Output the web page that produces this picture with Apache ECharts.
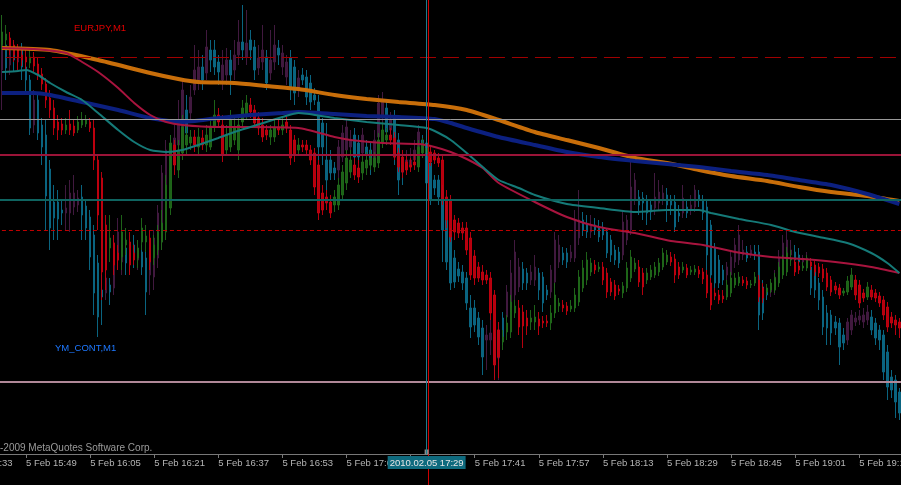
<!DOCTYPE html>
<html><head><meta charset="utf-8">
<script src="https://cdn.jsdelivr.net/npm/echarts@6/dist/echarts.min.js"></script>
<style>html,body{margin:0;padding:0;background:#000;overflow:hidden}#c{width:901px;height:485px}</style>
</head><body><div id="c"></div>
<script>
const FONT = 'Liberation Sans';
const categories = [
'15:33','15:34','15:35','15:36','15:37','15:38','15:39','15:40','15:41','15:42',
'15:43','15:44','15:45','15:46','15:47','15:48','15:49','15:50','15:51','15:52','15:53','15:54','15:55','15:56','15:57','15:58','15:59',
'16:00','16:01','16:02','16:03','16:04','16:05','16:06','16:07','16:08','16:09','16:10','16:11','16:12','16:13','16:14','16:15','16:16','16:17','16:18','16:19','16:20','16:21','16:22','16:23','16:24','16:25','16:26','16:27','16:28','16:29','16:30','16:31','16:32','16:33','16:34','16:35','16:36','16:37','16:38','16:39','16:40','16:41','16:42','16:43','16:44','16:45','16:46','16:47','16:48','16:49','16:50','16:51','16:52','16:53','16:54','16:55','16:56','16:57','16:58','16:59',
'17:00','17:01','17:02','17:03','17:04','17:05','17:06','17:07','17:08','17:09','17:10','17:11','17:12','17:13','17:14','17:15','17:16','17:17','17:18','17:19','17:20','17:21','17:22','17:23','17:24','17:25','17:26','17:27','17:28','17:29','17:30','17:31','17:32','17:33','17:34','17:35','17:36','17:37','17:38','17:39','17:40','17:41','17:42','17:43','17:44','17:45','17:46','17:47','17:48','17:49','17:50','17:51','17:52','17:53','17:54','17:55','17:56','17:57','17:58','17:59',
'18:00','18:01','18:02','18:03','18:04','18:05','18:06','18:07','18:08','18:09','18:10','18:11','18:12','18:13','18:14','18:15','18:16','18:17','18:18','18:19','18:20','18:21','18:22','18:23','18:24','18:25','18:26','18:27','18:28','18:29','18:30','18:31','18:32','18:33','18:34','18:35','18:36','18:37','18:38','18:39','18:40','18:41','18:42','18:43','18:44','18:45','18:46','18:47','18:48','18:49','18:50','18:51','18:52','18:53','18:54','18:55','18:56','18:57','18:58','18:59',
'19:00','19:01','19:02','19:03','19:04','19:05','19:06','19:07','19:08','19:09','19:10','19:11','19:12','19:13','19:14','19:15','19:16','19:17','19:18','19:19','19:20','19:21','19:22','19:23','19:24','19:25','19:26','19:27'
];
const firstBarTime = '15:43';
const tickLabels = ['15:33','15:49','16:05','16:21','16:37','16:53','17:09','17:25','17:41','17:57','18:13','18:29','18:45','19:01','19:17'];
const crossTime = '17:29';
const crossLabel = '2010.02.05 17:29';

// bars from 15:43 onward, [open, close, low, high]
const eurjpyCandles = [
[10055,10068,10050,10085],[10060,10066,10054,10075],[10062,10052,10045,10068],[10055,10045,10038,10060],[10052,10042,10030,10056],
[10045,10040,10034,10052],[10043,10038,10030,10050],[10037,10043,10032,10050],[10043,10034,10028,10048],[10036,10025,10020,10042],
[10026,10016,10010,10032],[10016,10000,9992,10022],[10002,9990,9982,10010],[9992,9972,9965,10000],[9978,9970,9960,9985],
[9976,9970,9965,9982],[9970,9975,9966,9982],[9976,9970,9965,9990],[9974,9967,9964,9980],[9970,9978,9967,9984],
[9975,9980,9972,9988],[9976,9980,9973,9985],[9978,9972,9968,9982],[9972,9940,9930,9980],[9940,9885,9870,9945],
[9922,9828,9800,9928],[9875,9830,9810,9885],[9852,9862,9838,9885],[9857,9835,9825,9865],[9847,9840,9830,9855],
[9843,9868,9830,9885],[9855,9860,9845,9872],[9858,9835,9825,9868],[9847,9840,9835,9855],[9842,9852,9832,9860],
[9858,9872,9850,9882],[9858,9864,9848,9875],[9862,9838,9830,9870],[9842,9855,9835,9865],[9850,9868,9845,9875],
[9858,9877,9850,9890],[9868,9915,9860,9925],[9892,9957,9885,9965],[9955,9935,9925,9960],[9930,9950,9922,9960],
[9947,9973,9940,9985],[9955,9965,9945,9975],[9957,9963,9950,9970],[9963,9955,9948,9970],[9953,9963,9945,9972],
[9962,9955,9950,9970],[9955,9965,9948,9975],[9953,9973,9950,9982],[9973,9985,9968,10000],[9985,9978,9972,9992],
[9975,9945,9938,9985],[9950,9965,9945,9975],[9953,9980,9948,9990],[9960,9972,9955,9982],[9950,9975,9940,9982],
[9978,9992,9972,10000],[9985,9997,9980,10005],[9995,9988,9982,10002],[9990,9977,9972,9995],[9982,9972,9965,9988],
[9975,9963,9958,9982],[9970,9965,9960,9975],[9963,9970,9955,9975],[9963,9972,9958,9980],[9973,9970,9965,9980],
[9970,9975,9965,9982],[9978,9972,9967,9985],[9970,9942,9935,9975],[9960,9945,9938,9965],[9950,9955,9945,9962],
[9955,9953,9948,9960],[9955,9950,9945,9960],[9950,9940,9935,9955],[9947,9913,9905,9952],[9935,9887,9880,9940],
[9907,9890,9885,9915],[9903,9897,9890,9910],[9898,9887,9882,9905],[9895,9903,9888,9910],[9895,9915,9890,9922],
[9905,9928,9900,9935],[9917,9942,9910,9950],[9928,9940,9922,9950],[9935,9925,9920,9942],[9932,9923,9917,9940],
[9927,9938,9920,9945],[9932,9940,9925,9948],[9935,9942,9930,9950],[9933,9942,9928,9948],[9937,9960,9932,9967],
[9957,9970,9952,9978],[9960,9965,9955,9972],[9965,9960,9955,9972],[9962,9943,9940,9968],[9947,9933,9928,9952],
[9943,9928,9922,9950],[9938,9930,9925,9945],[9935,9933,9928,9942],[9938,9935,9930,9945],[9933,9953,9928,9960],
[9947,9957,9942,9962],[9947,9952,9943,9957],[9948,9938,9934,9953],[9947,9940,9936,9950],[9942,9937,9933,9947],
[9940,9900,9895,9945],[9903,9880,9872,9910],[9900,9863,9858,9905],[9880,9868,9860,9885],[9877,9867,9862,9882],
[9872,9867,9860,9878],[9872,9850,9845,9878],[9862,9825,9820,9868],[9844,9822,9815,9850],[9833,9822,9818,9838],
[9828,9820,9815,9835],[9825,9820,9816,9830],[9822,9787,9780,9828],[9805,9735,9720,9810],[9770,9743,9722,9778],
[9758,9763,9750,9770],[9768,9777,9760,9785],[9768,9798,9762,9805],[9787,9794,9782,9800],[9792,9773,9765,9800],
[9788,9774,9752,9795],[9782,9774,9765,9790],[9778,9782,9770,9790],[9778,9783,9770,9795],[9781,9774,9765,9788],
[9779,9777,9772,9784],[9779,9777,9773,9785],[9777,9787,9770,9795],[9787,9805,9782,9817],[9794,9797,9788,9802],
[9795,9792,9788,9800],[9794,9789,9785,9798],[9791,9794,9788,9800],[9792,9805,9788,9812],[9798,9823,9794,9830],
[9812,9832,9808,9840],[9820,9840,9815,9848],[9828,9837,9824,9842],[9835,9830,9826,9840],[9831,9833,9828,9838],
[9833,9820,9815,9838],[9827,9808,9802,9832],[9818,9808,9804,9822],[9815,9804,9800,9820],[9811,9809,9805,9815],
[9807,9814,9802,9818],[9812,9832,9808,9838],[9822,9843,9818,9850],[9831,9837,9828,9842],[9833,9818,9813,9840],
[9827,9813,9805,9832],[9820,9827,9816,9832],[9823,9830,9820,9835],[9825,9833,9822,9838],[9828,9837,9824,9842],
[9833,9847,9830,9852],[9838,9845,9835,9850],[9843,9838,9834,9848],[9841,9825,9817,9846],[9833,9825,9821,9838],
[9830,9833,9827,9838],[9832,9825,9822,9836],[9828,9830,9825,9834],[9828,9831,9825,9835],[9830,9826,9822,9834],
[9828,9821,9816,9832],[9825,9807,9802,9830],[9817,9795,9790,9822],[9807,9804,9800,9812],[9805,9800,9796,9810],
[9804,9801,9797,9810],[9803,9815,9800,9820],[9807,9822,9803,9828],[9815,9822,9812,9827],[9817,9823,9814,9828],
[9820,9817,9814,9824],[9819,9815,9811,9823],[9815,9816,9812,9820],[9817,9823,9814,9828],[9820,9803,9798,9825],
[9812,9802,9797,9817],[9808,9812,9805,9816],[9810,9817,9807,9821],[9810,9822,9807,9827],[9817,9833,9813,9838],
[9825,9840,9821,9845],[9828,9847,9824,9853],[9840,9842,9834,9850],[9838,9828,9824,9842],[9834,9830,9826,9839],
[9832,9834,9829,9838],[9832,9840,9829,9845],[9838,9834,9830,9842],[9835,9828,9824,9839],[9833,9827,9823,9837],
[9831,9822,9818,9836],[9827,9813,9809,9832],[9820,9808,9804,9824],[9814,9810,9806,9818],[9812,9805,9801,9816],
[9807,9809,9804,9812],[9808,9819,9805,9824],[9813,9825,9810,9832],[9820,9805,9800,9825],[9815,9797,9792,9820],
[9807,9802,9798,9811],[9803,9813,9800,9818],[9810,9803,9800,9815],[9807,9802,9798,9811],[9804,9797,9793,9808],
[9800,9785,9780,9804],[9793,9773,9768,9798],[9783,9777,9772,9788],[9780,9775,9765,9785],[9778,9772,9762,9782]
];

const ymCandles = [
[10030,10060,9990,10085],[10055,10032,10020,10065],[10035,10050,10025,10060],[10048,10040,10028,10058],[10038,10045,10030,10055],
[10050,10033,10020,10057],[10033,10020,10005,10040],[10020,9972,9965,10025],[9975,10000,9967,10010],[10000,9967,9960,10005],
[9975,9953,9935,9982],[9965,9904,9870,9980],[9931,9872,9850,9940],[9898,9882,9860,9915],[9898,9881,9860,9910],
[9890,9887,9875,9900],[9887,9892,9870,9915],[9887,9907,9868,9920],[9893,9907,9885,9925],[9895,9902,9888,9910],
[9903,9885,9860,9915],[9894,9872,9860,9900],[9883,9843,9830,9890],[9865,9807,9785,9875],[9837,9783,9763,9845],
[9810,9803,9775,9825],[9807,9822,9800,9830],[9815,9808,9795,9822],[9812,9857,9805,9865],[9840,9868,9830,9882],
[9838,9855,9825,9860],[9852,9837,9825,9862],[9840,9847,9828,9855],[9855,9843,9832,9865],[9840,9850,9830,9860],
[9848,9833,9825,9855],[9842,9808,9785,9850],[9825,9843,9805,9850],[9823,9862,9810,9870],[9842,9887,9832,9895],
[9858,9927,9850,9935],[9915,9950,9905,9960],[9950,9940,9930,9965],[9938,9962,9930,9975],[9955,9980,9948,10000],
[9953,10010,9945,10020],[9990,9967,9960,10005],[9987,10003,9980,10015],[10010,10030,10005,10055],[10017,10033,10010,10050],
[10033,10020,10010,10045],[10027,10053,10020,10070],[10050,10040,10028,10060],[10050,10033,10025,10060],[10038,10028,10015,10045],
[10020,10035,10010,10050],[10025,10040,10015,10052],[10040,10025,10005,10050],[10030,10045,10020,10060],[10045,10058,10035,10080],
[10058,10050,10040,10095],[10043,10057,10035,10090],[10060,10050,10040,10070],[10053,10030,10020,10060],[10032,10042,10025,10055],
[10038,10050,10030,10075],[10043,10017,10010,10050],[10027,10040,10020,10070],[10038,10055,10030,10075],[10052,10045,10035,10060],
[10033,10047,10025,10055],[10023,10038,10015,10045],[10042,10012,10000,10050],[10033,10007,9995,10040],[10010,10022,10003,10030],
[10025,10020,10015,10032],[10023,10003,9995,10030],[10017,9998,9990,10025],[10005,10000,9995,10012],[9998,9953,9940,10005],
[9977,9953,9935,9982],[9940,9920,9903,9977],[9940,9927,9920,9950],[9932,9927,9920,9938],[9930,9953,9922,9960],
[9943,9967,9938,9975],[9950,9973,9942,9980],[9953,9960,9948,9970],[9965,9943,9935,9972],[9957,9943,9937,9965],
[9947,9965,9940,9972],[9953,9945,9938,9960],[9950,9935,9925,9957],[9940,9960,9932,9970],[9963,9997,9958,10005],
[9983,10000,9978,10008],[9992,9968,9962,10000],[9970,9980,9962,9988],[9982,9943,9935,9990],[9960,9920,9905,9967],
[9935,9928,9915,9945],[9932,9940,9925,9950],[9933,9940,9928,9952],[9940,9950,9935,9960],[9950,9968,9942,9975],
[9960,9953,9948,9965],[9957,9917,9910,9962],[9937,9900,9895,9942],[9920,9912,9905,9925],[9920,9903,9895,9925],
[9910,9870,9838,9915],[9890,9838,9830,9895],[9865,9817,9810,9872],[9842,9818,9812,9850],[9831,9824,9818,9838],
[9828,9817,9810,9835],[9822,9797,9790,9828],[9792,9773,9762,9805],[9792,9775,9768,9800],[9782,9763,9755,9788],
[9772,9743,9725,9780],[9760,9765,9730,9775],[9760,9767,9745,9782],[9763,9738,9722,9770],[9742,9770,9720,9778],
[9782,9760,9755,9788],[9783,9808,9778,9815],[9793,9827,9788,9840],[9805,9848,9800,9860],[9813,9833,9808,9842],
[9831,9817,9810,9838],[9827,9817,9810,9832],[9820,9828,9815,9835],[9820,9833,9814,9845],[9827,9810,9800,9832],
[9823,9797,9788,9828],[9810,9805,9800,9815],[9808,9830,9802,9835],[9818,9860,9812,9868],[9838,9855,9832,9865],
[9847,9840,9835,9853],[9847,9838,9832,9852],[9842,9848,9838,9855],[9842,9880,9838,9890],[9862,9880,9855,9910],
[9880,9870,9864,9888],[9875,9868,9862,9885],[9868,9875,9862,9885],[9875,9870,9865,9882],[9873,9863,9858,9880],
[9872,9865,9860,9878],[9868,9847,9842,9872],[9860,9845,9838,9865],[9850,9840,9835,9855],[9848,9837,9832,9853],
[9845,9878,9840,9890],[9860,9880,9855,9885],[9870,9913,9865,9938],[9900,9920,9895,9927],[9903,9895,9885,9910],
[9902,9897,9880,9908],[9900,9887,9875,9905],[9895,9888,9880,9900],[9892,9903,9885,9927],[9897,9908,9890,9920],
[9900,9907,9895,9915],[9905,9895,9878,9912],[9900,9895,9885,9905],[9898,9873,9868,9905],[9887,9884,9878,9895],
[9887,9902,9882,9915],[9893,9887,9882,9900],[9890,9895,9885,9905],[9893,9910,9888,9915],[9905,9900,9893,9910],
[9900,9887,9880,9905],[9893,9845,9825,9900],[9875,9825,9820,9880],[9852,9817,9810,9857],[9840,9817,9812,9845],
[9830,9820,9815,9835],[9825,9833,9820,9838],[9825,9843,9820,9850],[9838,9855,9832,9862],[9840,9865,9835,9875],
[9845,9850,9840,9860],[9848,9842,9838,9854],[9845,9850,9842,9855],[9848,9845,9840,9855],[9848,9785,9770,9855],
[9813,9787,9780,9820],[9808,9805,9800,9812],[9808,9813,9803,9818],[9810,9823,9805,9830],[9820,9843,9815,9850],
[9835,9857,9830,9865],[9843,9860,9838,9870],[9845,9850,9838,9860],[9848,9840,9835,9855],[9845,9838,9832,9852],
[9838,9840,9833,9845],[9838,9842,9832,9848],[9833,9812,9805,9838],[9830,9810,9802,9835],[9817,9800,9790,9822],
[9803,9773,9765,9810],[9787,9772,9755,9795],[9785,9767,9755,9790],[9778,9772,9765,9784],[9777,9753,9735,9782],
[9765,9757,9750,9772],[9760,9778,9755,9782],[9770,9785,9765,9790],[9778,9782,9774,9788],[9780,9784,9775,9790],
[9778,9785,9772,9792],[9780,9788,9775,9795],[9783,9770,9765,9790],[9777,9762,9755,9782],[9770,9760,9750,9775],
[9765,9728,9720,9770],[9748,9713,9700,9755],[9723,9710,9702,9730],[9720,9698,9682,9725],[9708,9687,9680,9712]
];

// moving averages: [bar number counted from 15:43, value]
const maOrange = [[0,10052],[12,10050],[24,10040],[37,10027],[44,10021],[49,10018],[58,10017],[66,10014],[74,10011],[83,10005],[91,10001],[99,9998],[108,9995],[116,9990],[124,9980],[133,9968],[141,9960],[149,9952],[158,9942],[166,9937],[174,9930],[182,9924],[191,9919],[199,9913],[207,9908],[216,9904],[224,9899]];
const maBlue = [[0,10007],[8,10007],[12,10005],[20,9998],[29,9990],[37,9982],[45,9978],[54,9982],[62,9985],[70,9987],[74,9988],[83,9986],[91,9984],[99,9983],[108,9981],[112,9977],[116,9972],[124,9963],[133,9955],[141,9948],[149,9943],[158,9939],[166,9936],[174,9933],[182,9929],[191,9925],[199,9920],[207,9915],[216,9906],[224,9896]];
const maCrimson = [[0,10052],[8,10051],[16,10047],[20,10038],[24,10028],[29,10012],[33,9997],[37,9985],[41,9978],[45,9975],[54,9973],[62,9973],[74,9972],[83,9963],[87,9960],[95,9957],[104,9956],[108,9953],[112,9948],[116,9941],[120,9932],[124,9917],[133,9898],[141,9883],[149,9873],[158,9867],[167,9859],[175,9855],[183,9848],[192,9843],[200,9841],[208,9838],[217,9833],[224,9827]];
const maTeal = [[0,10028],[4,10029],[6,10030],[9,10025],[12,10017],[16,10008],[20,10000],[24,9987],[29,9970],[33,9958],[37,9950],[41,9948],[45,9950],[49,9955],[54,9962],[58,9968],[62,9973],[66,9978],[70,9983],[74,9987],[83,9982],[91,9978],[99,9975],[106,9972],[109,9967],[112,9960],[116,9947],[120,9933],[124,9920],[129,9912],[133,9905],[141,9896],[149,9892],[158,9888],[166,9890],[174,9890],[177,9887],[184,9881],[192,9875],[198,9868],[204,9863],[211,9857],[217,9847],[221,9837],[224,9827]];

// horizontal price levels
const levels = [10042.7, 9980.5, 9945, 9900, 9869.5, 9718.5];
const levelStyles = [
  {color:'#a00000', width:1, type:[16,7]},
  {color:'#9a9a9a', width:1, type:'solid'},
  {color:'#9b1438', width:2, type:'solid'},
  {color:'#0f6460', width:2, type:'solid'},
  {color:'#c00000', width:1, type:[4,3]},
  {color:'#b08898', width:2, type:'solid'}
];

const BAR = 4.006;
const offset = categories.indexOf(firstBarTime);
const gridLeft = -offset * BAR;
const gridWidth = categories.length * BAR;
const pad = c => new Array(offset).fill('-').concat(c);
const shift = arr => arr.map(p => [p[0] + offset, p[1]]);
const crossIdx = categories.indexOf(crossTime);
const chart = echarts.init(document.getElementById('c'), null, {renderer:'canvas'});

const maSeries = (name, data, color, width) => ({
  name, type:'line', data:shift(data), showSymbol:false, symbol:'none', smooth:0.2, silent:true,
  xAxisIndex:0, yAxisIndex:0, z:4,
  lineStyle:{color, width}
});

chart.setOption({
  backgroundColor:'#000000',
  animation:false,
  tooltip:{show:true, triggerOn:'none', showContent:false},
  title:[
    {text:'EURJPY,M1', left:74, top:23, padding:0, textStyle:{color:'#e00000', fontSize:9.5, fontWeight:'normal', fontFamily:FONT}},
    {text:'YM_CONT,M1', left:55, top:343, padding:0, textStyle:{color:'#1e78ff', fontSize:9.5, fontWeight:'normal', fontFamily:FONT}},
    {text:'-2009 MetaQuotes Software Corp.', left:0, top:443, padding:0, textStyle:{color:'#9a9a9a', fontSize:10, fontWeight:'normal', fontFamily:FONT}}
  ],
  grid:[
    {left:gridLeft, top:0, width:gridWidth, height:454, containLabel:false, outerBoundsMode:'none'},
    {left:gridLeft + 1.5, top:0, width:gridWidth, height:485, containLabel:false, outerBoundsMode:'none'}
  ],
  xAxis:[
    {
      gridIndex:0, type:'category', data:categories, boundaryGap:true,
      axisLine:{show:true, lineStyle:{color:'#787878', width:1}},
      axisTick:{show:true, alignWithLabel:true, length:4, interval:(i,v)=>tickLabels.includes(v), lineStyle:{color:'#787878'}},
      axisLabel:{show:true, interval:(i,v)=>tickLabels.includes(v), formatter:v=>'5 Feb '+v, align:'left', margin:4, color:'#b4b4b4', fontSize:9.5, fontFamily:FONT, hideOverlap:false},
      splitLine:{show:false},
      axisPointer:{
        show:true, status:'show', value:crossIdx, type:'line', snap:false, triggerTooltip:false,
        lineStyle:{color:'#1d7d8d', width:1, type:'solid'},
        label:{show:true, formatter:()=>crossLabel, backgroundColor:'#0e6a7e', color:'#e6e6e6', fontSize:9.5, fontFamily:FONT, padding:[2,2,1,2], margin:2, borderRadius:0, shadowBlur:0}
      }
    },
    {gridIndex:1, type:'category', data:categories, boundaryGap:true, show:false}
  ],
  yAxis:[
    {gridIndex:0, type:'value', min:9646, max:10100, show:false, splitLine:{show:false}},
    {gridIndex:1, type:'value', min:0, max:1, show:false, splitLine:{show:false}}
  ],
  series:[
    {
      name:'YM_CONT', type:'candlestick', data:pad(ymCandles), xAxisIndex:0, yAxisIndex:0, barWidth:2, silent:true, z:2,
      itemStyle:{color:'#41193f', color0:'#0a6480', borderColor:'#41193f', borderColor0:'#0a6480', borderWidth:1}
    },
    {
      name:'EURJPY', type:'candlestick', data:pad(eurjpyCandles), xAxisIndex:0, yAxisIndex:0, barWidth:2, silent:true, z:3,
      itemStyle:{color:'#1f6a1a', color0:'#c4000f', borderColor:'#1f6a1a', borderColor0:'#c4000f', borderWidth:1, opacity:0.92},
      markPoint:{silent:true, symbol:'rect', symbolSize:[4,5], symbolOffset:[0,-2], label:{show:false},
        itemStyle:{color:'#8a8a8a'}, data:[{coord:[crossIdx, 9646]}]}
    },
    maSeries('MA orange', maOrange, '#c86e0a', 4),
    maSeries('MA blue', maBlue, '#0c2080', 4),
    maSeries('MA crimson', maCrimson, '#a8143e', 2),
    Object.assign(maSeries('MA teal', maTeal, '#157a78', 2), {
      markLine:{silent:true, symbol:['none','none'], label:{show:false}, animation:false,
        data: levels.map((v,k)=>({yAxis:v, lineStyle:levelStyles[k]}))}
    }),
    {
      name:'cross', type:'line', xAxisIndex:1, yAxisIndex:1, data:[[crossIdx,0.5]], showSymbol:false, symbol:'none', silent:true, z:6,
      lineStyle:{opacity:0},
      markLine:{silent:true, symbol:['none','none'], label:{show:false}, animation:false,
        data:[{xAxis:crossIdx, lineStyle:{color:'#d00000', width:1, type:'solid'}}]}
    }
  ]
});
</script>
</body></html>
